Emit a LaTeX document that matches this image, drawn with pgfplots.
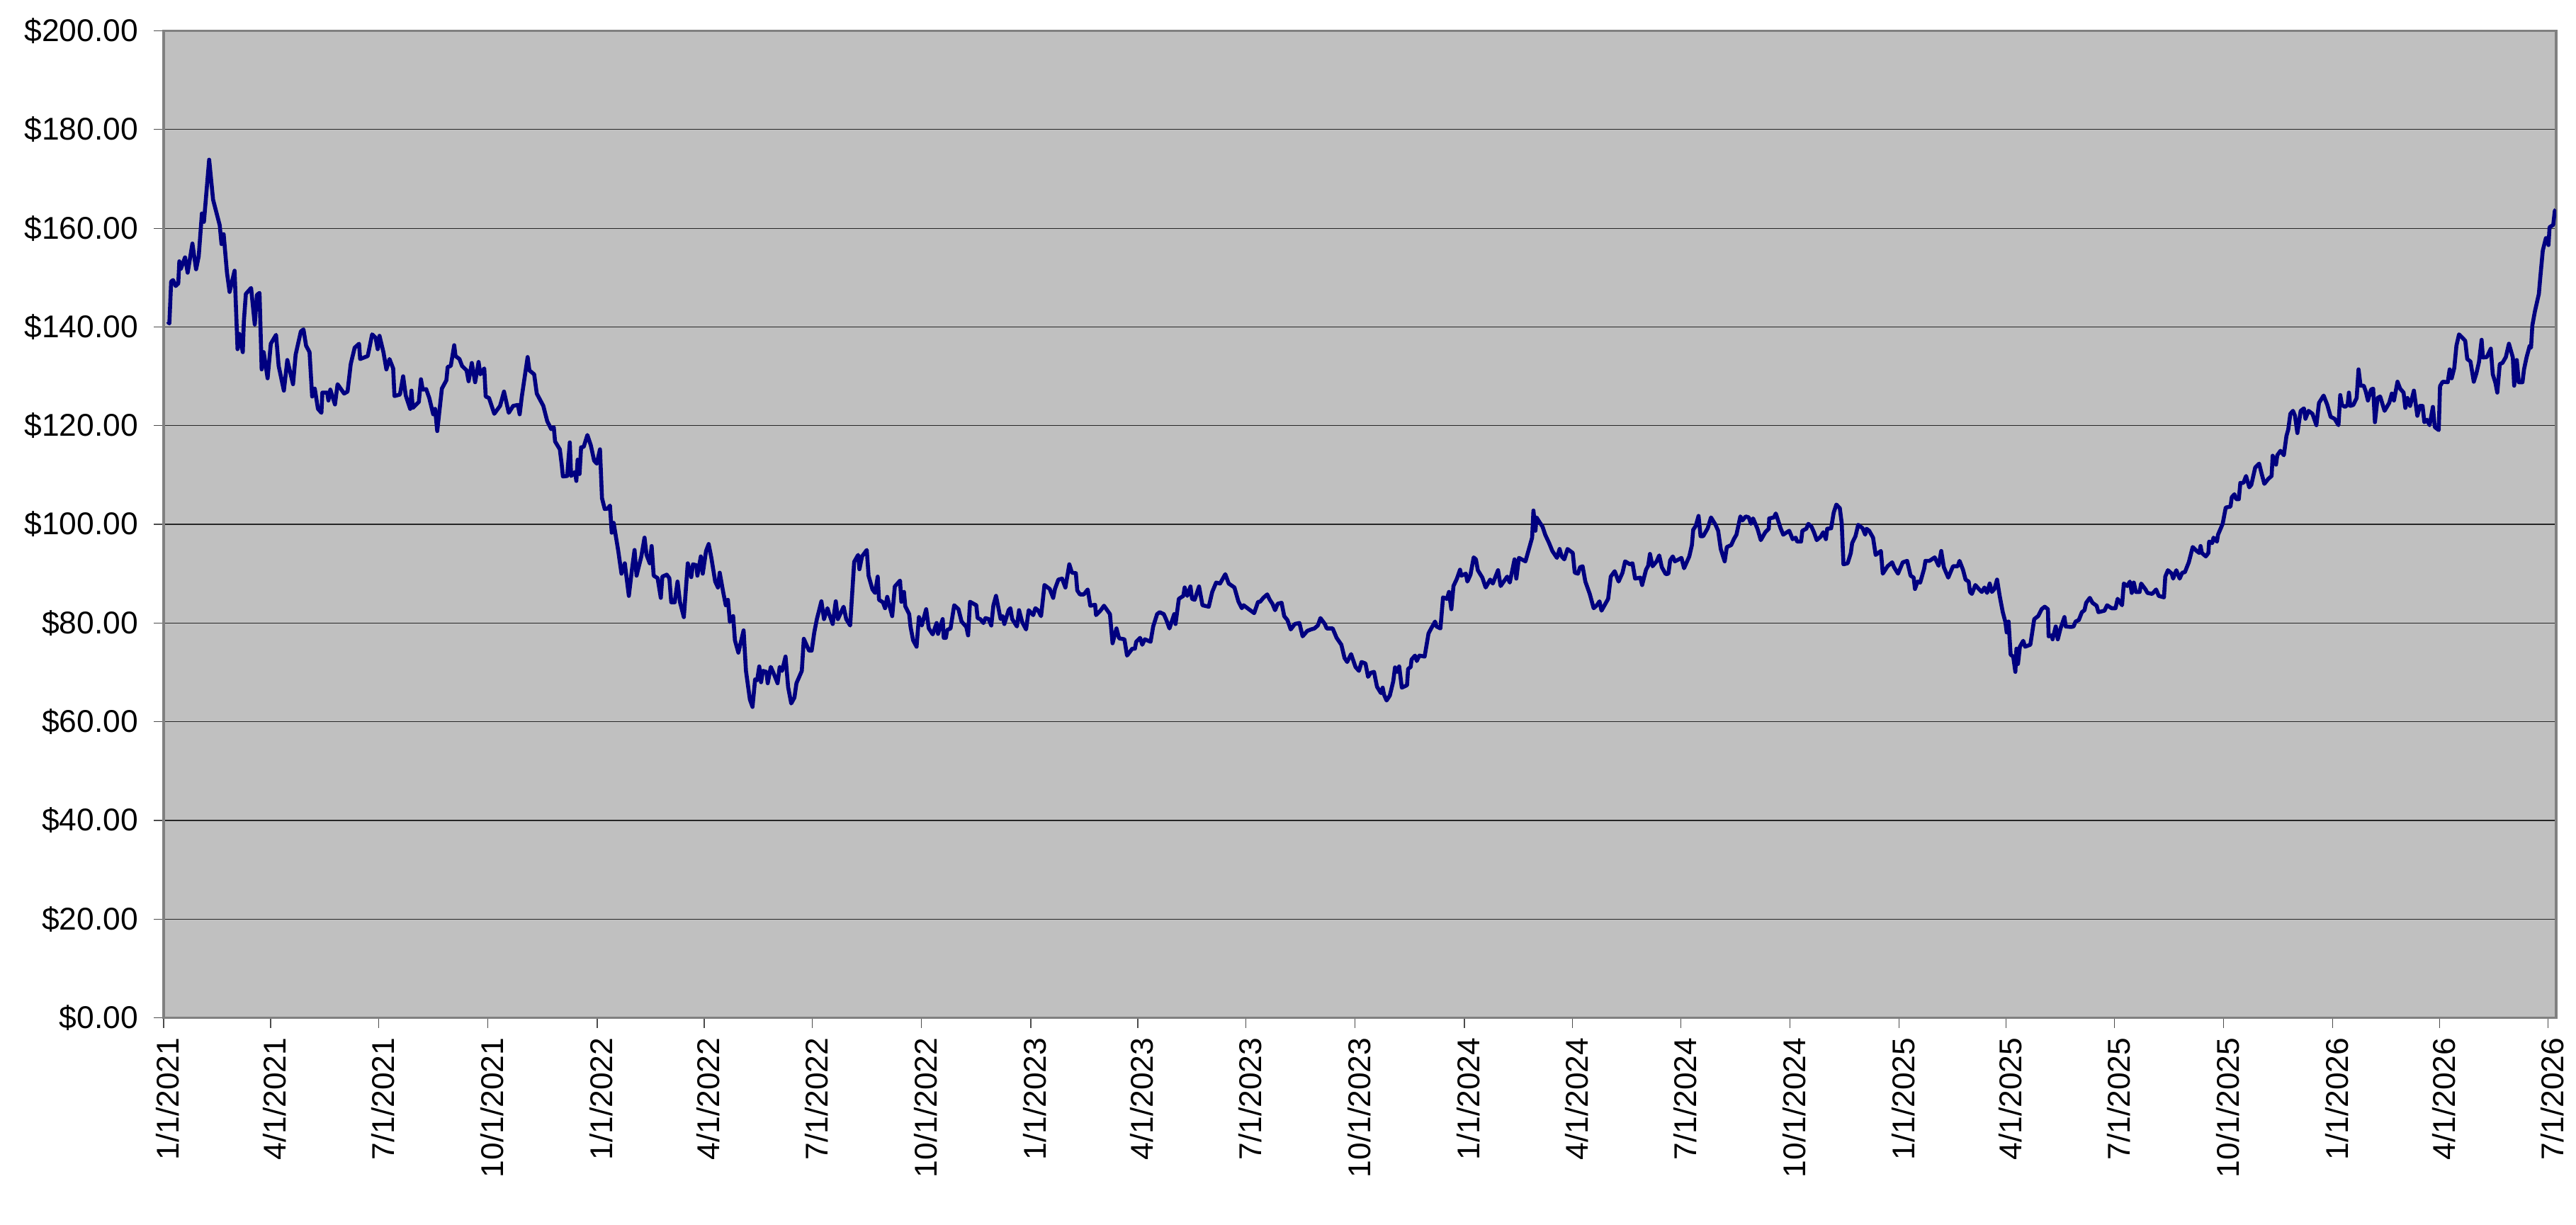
\documentclass[border=0pt]{standalone}
\usepackage{fontspec}
\setmainfont{Liberation Sans}
\usepackage{pgfplots}
\pgfplotsset{compat=1.18}
\definecolor{plotbg}{HTML}{C0C0C0}
\definecolor{navyline}{HTML}{000080}
\begin{document}
\begin{tikzpicture}
\path[use as bounding box] (-57.75pt,-72.9pt) rectangle (851.2pt,359.1pt);
\begin{axis}[
  scale only axis,
  width=844.25pt, height=348.2pt,
  xmin=0, xmax=2014.2, ymin=0, ymax=200,
  axis background/.style={fill=plotbg},
  axis line style={draw=gray, line width=0.9pt},
  ymajorgrids,
  major grid style={black!85, line width=0.3pt},
  tick style={black!70, line width=0.3pt},
  major tick length=3.5pt,
  tick align=outside,
  xtick pos=left, ytick pos=left,
  /pgf/number format/assume math mode=true,
  ticklabel style={font=\fontsize{11.1}{13}\selectfont},
  ytick={0,20,40,60,80,100,120,140,160,180,200},
  yticklabels={\$0.00,\$20.00,\$40.00,\$60.00,\$80.00,\$100.00,\$120.00,\$140.00,\$160.00,\$180.00,\$200.00},
  xtick={0,90,181,273,365,455,546,638,730,820,911,1003,1095,1186,1277,1369,1461,1551,1642,1734,1826,1916,2007},
  xticklabels={1/1/2021,4/1/2021,7/1/2021,10/1/2021,1/1/2022,4/1/2022,7/1/2022,10/1/2022,1/1/2023,4/1/2023,7/1/2023,10/1/2023,1/1/2024,4/1/2024,7/1/2024,10/1/2024,1/1/2025,4/1/2025,7/1/2025,10/1/2025,1/1/2026,4/1/2026,7/1/2026},
  xticklabel style={rotate=90, anchor=east, yshift=-1.5pt},
  yticklabel style={anchor=east, xshift=-2pt},
]
\addplot[navyline, line width=1.4pt, line join=round] coordinates {
(3.5,141.1)(4.8,140.7)(6.3,149.2)(7.9,149.5)(10.1,148.3)(12.3,148.8)(13.2,153.3)(14.5,151.8)(18.0,154.1)(20.2,151.0)(24.2,156.9)(27.3,151.7)(29.5,154.3)(32.2,163.0)(33.9,161.3)(38.3,173.9)(41.6,165.8)(47.2,160.6)(48.7,156.8)(50.5,158.8)(53.3,151.0)(55.5,147.1)(59.7,151.4)(62.2,135.5)(63.7,138.6)(66.6,134.9)(67.5,141.1)(69.2,146.7)(73.6,147.9)(76.7,140.5)(78.5,146.5)(80.7,146.9)(82.5,131.4)(84.2,134.9)(87.5,129.6)(90.2,136.6)(94.6,138.4)(96.8,132.1)(101.2,127.1)(104.1,133.3)(108.9,128.4)(111.1,134.4)(115.5,139.1)(117.7,139.5)(119.9,136.2)(122.8,134.9)(125.0,125.9)(127.2,127.5)(129.9,123.4)(132.8,122.6)(133.6,126.7)(137.6,126.7)(138.7,125.1)(140.3,127.3)(144.2,124.3)(146.4,128.4)(151.9,126.5)(154.8,126.9)(157.5,132.5)(160.8,135.8)(164.5,136.6)(165.4,133.5)(171.8,134.1)(175.5,138.5)(178.4,137.8)(180.2,135.5)(181.7,138.2)(185.0,134.9)(187.5,131.4)(190.1,133.5)(193.2,131.6)(194.3,126.0)(198.9,126.3)(201.6,130.0)(203.8,126.1)(207.5,123.4)(208.6,127.1)(209.7,123.6)(214.8,124.8)(216.6,129.4)(218.1,127.3)(221.0,127.4)(223.6,125.6)(226.9,122.3)(228.5,123.4)(230.3,118.9)(234.2,127.5)(238.0,129.2)(239.1,131.9)(241.7,132.1)(244.6,136.3)(245.7,134.1)(249.0,133.5)(251.2,132.1)(255.0,131.2)(256.7,129.0)(259.4,132.7)(262.2,128.8)(265.1,132.9)(266.6,130.4)(269.9,131.6)(271.1,125.9)(273.9,125.6)(278.3,122.4)(283.2,124.0)(286.5,126.9)(290.5,122.6)(294.2,124.0)(298.2,124.2)(299.7,122.3)(301.5,125.9)(306.4,133.9)(307.9,131.2)(311.9,130.4)(314.1,126.5)(319.6,124.0)(322.9,120.9)(326.2,119.3)(328.4,119.7)(329.5,116.8)(333.5,115.2)(335.0,112.3)(336.1,109.7)
(339.7,109.8)(341.9,116.6)(343.0,109.8)(346.3,110.6)(347.4,108.8)(348.5,113.1)(350.1,110.2)(351.4,115.6)(353.6,115.7)(356.7,118.1)(359.6,116.0)(362.4,112.9)(364.6,112.3)(367.3,115.2)(369.0,105.3)(371.3,103.1)(373.9,103.2)(375.7,103.8)(377.2,98.3)(378.8,100.3)(382.7,94.6)(385.4,90.0)(388.2,92.1)(391.6,85.5)(394.2,90.8)(396.4,94.8)(398.1,89.6)(402.1,93.5)(404.8,97.3)(406.5,93.8)(409.2,92.1)(410.8,95.6)(412.5,89.6)(415.8,89.1)(418.5,85.1)(419.8,89.4)(423.5,89.8)(425.7,89.1)(427.3,84.2)(430.2,84.2)(432.6,88.4)(434.6,84.3)(437.9,81.2)(441.2,92.1)(444.1,89.3)(445.6,91.9)(448.5,91.7)(449.3,89.6)(452.2,93.5)(453.8,90.0)(456.6,94.6)(458.8,96.0)(461.0,93.3)(464.3,88.4)(466.6,87.2)(468.1,90.2)(471.0,86.3)(473.2,83.6)(475.0,84.7)(476.7,80.2)(479.4,81.4)(480.9,76.5)(483.8,74.0)(488.2,78.5)(490.2,70.3)(493.5,64.5)(495.7,63.0)(497.9,68.6)(499.6,68.4)(501.4,71.2)(502.9,68.0)(504.5,70.3)(507.4,70.1)(508.5,67.8)(511.1,71.1)(514.0,69.5)(516.8,67.8)(518.6,71.1)(520.6,70.3)(523.5,73.2)(525.7,67.0)(528.3,63.7)(531.0,64.9)(532.7,67.8)(537.2,70.3)(538.9,76.8)(543.3,74.4)(545.5,74.4)(547.7,78.1)(549.9,80.8)(553.7,84.4)(555.9,80.8)(558.8,83.0)(560.3,81.8)(563.2,79.8)(565.8,84.4)(567.6,80.8)(572.4,83.3)(574.6,80.8)(577.9,79.5)(581.3,92.4)(584.6,93.8)(585.7,90.9)(587.9,93.5)(591.9,94.8)(593.4,89.6)(596.7,86.8)(598.9,86.1)(601.1,89.4)(602.2,84.7)(605.5,84.2)(607.3,83.0)(609.1,85.3)(613.3,81.4)(615.5,87.4)(619.9,88.6)(621.0,84.3)(623.2,86.3)(624.3,83.4)(627.6,81.8)(628.7,79.3)(630.9,76.5)(633.8,75.2)(635.8,81.2)(638.2,79.5)(641.9,82.8)(644.1,78.9)(647.4,77.7)(650.7,80.0)(651.9,77.8)(655.8,80.8)(656.7,77.0)(658.5,77.0)(659.6,78.6)(662.4,78.9)(665.5,83.6)(669.1,82.8)(671.7,80.3)(675.7,79.2)(677.2,77.5)(678.8,84.3)
(684.1,83.6)(685.2,81.0)(687.4,80.8)(690.1,80.0)(691.8,81.0)(694.5,80.8)(696.7,79.5)(698.5,83.6)(700.7,85.5)(704.6,80.8)(706.2,81.4)(707.7,79.8)(711.3,82.6)(712.8,83.0)(714.3,80.8)(718.3,79.3)(720.1,82.6)(722.7,80.2)(726.0,78.7)(728.2,82.6)(732.0,81.6)(733.8,83.0)(736.0,82.6)(738.6,81.4)(741.5,87.7)(745.9,86.9)(748.8,85.1)(750.3,86.9)(753.2,88.8)(756.3,89.0)(759.1,87.2)(762.4,91.9)(764.6,90.2)(767.9,90.1)(769.1,86.6)(771.3,85.8)(774.6,85.8)(777.9,86.8)(780.1,83.5)(784.1,83.7)(784.9,81.6)(788.9,82.6)(791.6,83.5)(796.6,81.8)(798.8,75.9)(802.1,78.9)(804.3,76.9)(808.8,76.7)(811.0,73.4)(815.4,74.8)(817.6,74.8)(818.7,76.2)(822.0,77.0)(823.8,75.6)(826.0,76.7)(830.8,76.2)(833.0,79.3)(836.3,81.8)(838.5,82.2)(841.9,81.8)(844.1,80.6)(846.7,78.9)(850.7,81.8)(851.8,79.8)(854.6,84.9)(858.4,85.5)(859.5,87.2)(861.7,85.5)(864.4,87.4)(865.7,84.9)(867.9,84.7)(871.6,87.4)(874.5,83.6)(879.8,83.3)(882.7,86.3)(886.0,88.2)(889.3,88.0)(893.7,89.9)(896.6,88.0)(901.4,87.2)(904.7,84.4)(907.6,83.0)(909.1,83.6)(913.5,82.8)(918.0,82.0)(921.3,84.3)(923.0,84.3)(925.7,85.1)(929.0,85.8)(931.2,84.7)(933.4,83.9)(935.6,82.6)(937.8,83.9)(941.1,84.1)(943.3,81.4)(946.0,80.6)(948.8,78.7)(952.2,79.8)(956.1,80.0)(958.8,77.3)(962.7,78.4)(965.8,78.7)(968.7,78.9)(971.6,79.5)(973.8,81.0)(977.5,79.8)(979.1,78.9)(984.1,78.9)(987.4,77.0)(991.4,75.6)(994.1,72.9)(996.3,72.1)(999.6,73.7)(1003.3,71.1)(1006.2,70.3)(1008.4,72.1)(1011.7,71.8)(1013.9,69.1)(1016.1,69.9)(1018.9,70.1)(1021.4,67.1)
(1024.7,65.8)(1026.2,66.9)(1027.3,65.5)(1029.5,64.3)(1032.2,65.3)(1035.1,68.2)(1036.6,71.0)(1038.4,70.1)(1040.1,71.2)(1042.3,66.9)(1046.7,67.4)(1047.6,70.7)(1049.8,71.1)(1050.5,72.6)(1053.4,73.4)(1054.9,72.3)(1057.1,73.4)(1061.5,73.2)(1064.8,77.9)(1067.0,78.9)(1070.3,80.3)(1071.5,79.3)(1074.8,78.9)(1077.0,85.2)(1080.3,84.9)(1082.0,86.3)(1084.0,82.8)(1085.8,87.5)(1088.7,89.0)(1091.3,90.8)(1092.4,89.6)(1096.2,90.0)(1097.5,88.4)(1100.1,89.8)(1102.8,93.3)(1104.7,92.9)(1106.3,90.7)(1110.1,89.2)(1112.9,87.2)(1116.7,88.8)(1118.9,88.0)(1123.3,90.7)(1125.5,87.5)(1131.0,89.4)(1133.2,88.2)(1137.2,92.9)(1138.7,89.0)(1140.9,93.2)(1146.4,92.5)(1152.0,97.3)(1153.1,102.8)(1154.8,98.7)(1155.7,101.4)(1158.6,100.3)(1160.8,99.5)(1163.0,97.9)(1166.3,96.2)(1169.0,94.6)(1172.9,93.2)(1175.1,95.0)(1176.9,93.5)(1179.1,92.9)(1181.8,95.0)(1186.2,94.2)(1187.9,90.2)(1190.6,90.0)(1192.3,91.3)(1194.5,91.5)(1196.8,88.4)(1200.5,85.9)(1203.8,83.0)(1206.5,83.6)(1208.7,84.4)(1210.4,82.5)(1216.0,84.9)(1218.2,89.4)(1221.5,90.5)(1224.8,88.4)(1228.1,90.2)(1230.3,92.5)(1234.3,91.9)(1236.5,92.1)(1238.7,89.0)(1243.1,89.2)(1244.6,87.7)(1247.9,90.8)(1249.7,91.6)(1251.2,94.0)(1253.4,91.5)(1256.8,92.5)(1259.0,93.7)(1261.2,91.3)(1264.5,89.9)(1266.7,90.0)(1268.2,92.7)(1270.4,93.5)(1272.2,92.5)(1275.5,92.9)(1277.7,93.2)(1279.9,91.1)(1284.3,93.5)(1286.5,95.8)(1287.6,98.9)(1289.8,99.7)(1292.1,101.7)(1293.8,97.6)(1296.0,97.6)(1299.8,99.2)(1302.6,101.4)(1306.4,99.9)(1308.6,98.7)(1310.8,95.0)(1313.0,93.3)(1314.1,92.5)(1315.9,95.4)(1319.6,95.8)(1321.8,97.0)(1324.0,97.9)(1327.3,101.6)(1329.1,100.8)(1331.8,101.6)(1334.4,101.4)(1336.2,100.1)(1338.0,101.2)(1341.7,99.1)(1344.5,96.8)(1348.3,98.4)(1351.2,99.1)(1351.6,101.2)(1355.6,101.4)(1357.1,102.2)(1359.3,100.6)(1361.0,99.3)
(1363.4,97.9)(1368.4,98.7)(1371.3,97.0)(1373.9,97.3)(1375.1,96.5)(1378.4,96.5)(1379.5,98.7)(1382.8,99.1)(1384.5,100.1)(1387.2,99.5)(1389.4,98.3)(1391.6,96.8)(1394.9,97.5)(1397.1,98.4)(1399.3,97.0)(1400.4,99.1)(1403.7,99.2)(1405.9,102.4)(1408.1,104.0)(1411.0,103.3)(1412.6,100.3)(1414.1,91.9)(1417.6,92.1)(1420.3,94.2)(1421.4,96.2)(1424.2,97.6)(1426.5,99.9)(1430.2,99.2)(1432.4,97.9)(1433.5,99.1)(1435.7,98.7)(1439.0,97.3)(1441.2,93.8)(1443.4,94.2)(1445.6,94.6)(1447.2,90.0)(1451.2,91.5)(1455.1,92.3)(1456.7,91.3)(1460.0,90.0)(1464.0,92.3)(1467.7,92.6)(1470.6,89.6)(1473.2,89.2)(1474.3,86.9)(1476.5,88.4)(1478.7,88.2)(1482.0,91.0)(1483.1,92.6)(1486.5,92.6)(1490.9,93.3)(1494.2,91.6)(1496.4,94.6)(1498.6,91.3)(1502.3,89.2)(1506.3,91.5)(1510.3,91.5)(1511.8,92.6)(1514.7,90.8)(1516.9,88.8)(1519.5,88.4)(1520.6,86.3)(1522.2,85.9)(1525.1,87.7)(1528.4,86.8)(1530.6,86.3)(1532.8,87.2)(1535.0,86.1)(1537.2,88.0)(1539.0,86.3)(1541.2,86.9)(1543.4,88.8)(1545.6,85.5)(1548.2,82.2)(1550.4,80.2)(1551.5,78.1)(1553.1,80.3)(1554.8,73.6)(1557.0,73.2)(1558.8,70.1)(1559.7,74.8)(1561.0,71.7)(1562.6,75.2)(1565.4,76.4)(1567.0,75.2)(1571.4,75.6)(1574.7,80.8)(1578.0,81.4)(1580.9,82.8)(1583.5,83.3)(1586.2,82.8)(1586.8,77.3)(1589.7,77.5)(1590.1,76.7)(1592.8,79.3)(1594.5,76.7)(1596.8,78.9)(1600.1,81.2)(1601.2,79.3)(1605.6,79.2)(1607.8,79.3)(1609.5,80.3)(1612.2,80.6)(1614.8,82.2)(1617.0,82.6)(1618.4,84.1)(1621.5,85.1)(1623.7,84.1)(1627.2,83.5)(1628.7,82.2)(1633.8,82.5)(1636.0,83.6)(1639.8,83.0)(1643.1,83.0)(1644.9,84.9)(1648.6,83.6)(1650.1,88.0)(1653.0,87.5)(1655.2,88.4)(1656.8,86.1)(1658.5,88.2)(1660.3,86.3)(1663.4,86.3)(1664.7,88.0)(1668.4,86.8)(1670.0,86.1)(1674.0,85.9)(1677.3,86.8)(1679.5,85.5)(1683.9,85.2)(1685.0,89.4)(1687.2,90.7)(1690.5,90.0)(1691.6,89.0)(1694.3,90.7)(1697.1,89.0)(1699.3,90.2)(1701.5,90.3)
(1704.8,92.3)(1708.1,95.4)(1711.4,94.6)(1713.6,94.2)(1714.7,95.6)(1715.8,94.2)(1719.1,93.5)(1721.3,94.2)(1721.9,96.5)(1724.5,96.2)(1725.6,97.3)(1728.5,96.5)(1729.4,97.9)(1733.3,100.1)(1735.9,103.4)(1739.9,103.6)(1741.0,105.5)(1743.2,106.1)(1744.7,105.1)(1746.9,105.1)(1748.2,108.4)(1750.8,108.4)(1753.0,109.8)(1755.7,107.5)(1757.4,108.0)(1760.7,111.5)(1764.0,112.3)(1766.2,110.2)(1768.4,108.2)(1771.7,109.2)(1774.5,109.8)(1775.4,113.9)(1778.2,112.1)(1779.3,114.0)(1782.0,114.9)(1784.8,114.0)(1787.0,117.9)(1788.5,119.2)(1790.3,122.4)(1792.5,123.0)(1794.2,122.0)(1796.2,118.5)(1799.0,123.0)(1801.7,123.5)(1803.0,121.4)(1805.6,123.0)(1808.9,122.4)(1812.2,120.1)(1814.4,124.6)(1818.3,126.1)(1821.4,124.2)(1824.2,121.8)(1827.5,121.4)(1830.8,120.1)(1832.3,126.2)(1833.7,124.2)(1836.3,123.8)(1838.5,124.2)(1839.6,126.7)(1840.7,124.0)(1843.3,124.2)(1846.1,125.6)(1847.7,131.4)(1849.4,128.1)(1852.1,128.1)(1853.8,126.9)(1855.6,125.1)(1858.2,127.3)(1860.0,127.5)(1861.5,120.7)(1863.7,125.6)(1865.9,125.9)(1869.6,123.0)(1873.5,124.6)(1875.7,126.5)(1877.5,125.1)(1880.5,128.9)(1882.7,127.5)(1885.6,126.7)(1887.1,123.6)(1888.9,125.6)(1891.1,124.0)(1894.3,127.1)(1897.2,122.0)(1899.4,124.0)(1901.6,124.0)(1903.1,120.7)(1905.3,121.2)(1907.5,120.1)(1910.3,123.8)(1911.9,119.7)(1915.2,119.1)(1916.3,128.0)(1918.5,128.9)(1922.8,128.8)(1924.4,131.4)(1926.1,129.6)(1928.3,131.7)(1930.1,136.2)(1932.3,138.5)(1934.4,138.0)(1937.5,137.2)(1939.2,133.5)(1941.9,133.0)(1944.7,128.9)(1946.9,130.6)(1949.1,132.9)(1951.3,137.4)(1952.4,133.8)(1955.7,133.9)(1959.0,135.6)(1960.7,130.4)(1962.9,128.7)(1964.5,126.7)(1966.6,132.5)(1968.8,132.7)(1971.7,133.9)(1974.3,136.6)(1977.6,133.8)(1978.7,128.1)(1980.9,133.3)(1982.6,128.8)(1985.7,128.8)(1987.0,131.4)(1989.2,133.9)(1991.8,136.2)(1992.9,135.8)(1994.0,140.3)(1996.2,143.2)(1999.5,146.7)(2000.6,149.8)(2002.8,155.5)(2005.4,158.0)(2006.7,158.0)(2007.6,156.6)(2008.5,160.2)(2011.6,160.7)(2012.9,163.5)(2013.8,163.8)
};
\end{axis}
\end{tikzpicture}
\end{document}
